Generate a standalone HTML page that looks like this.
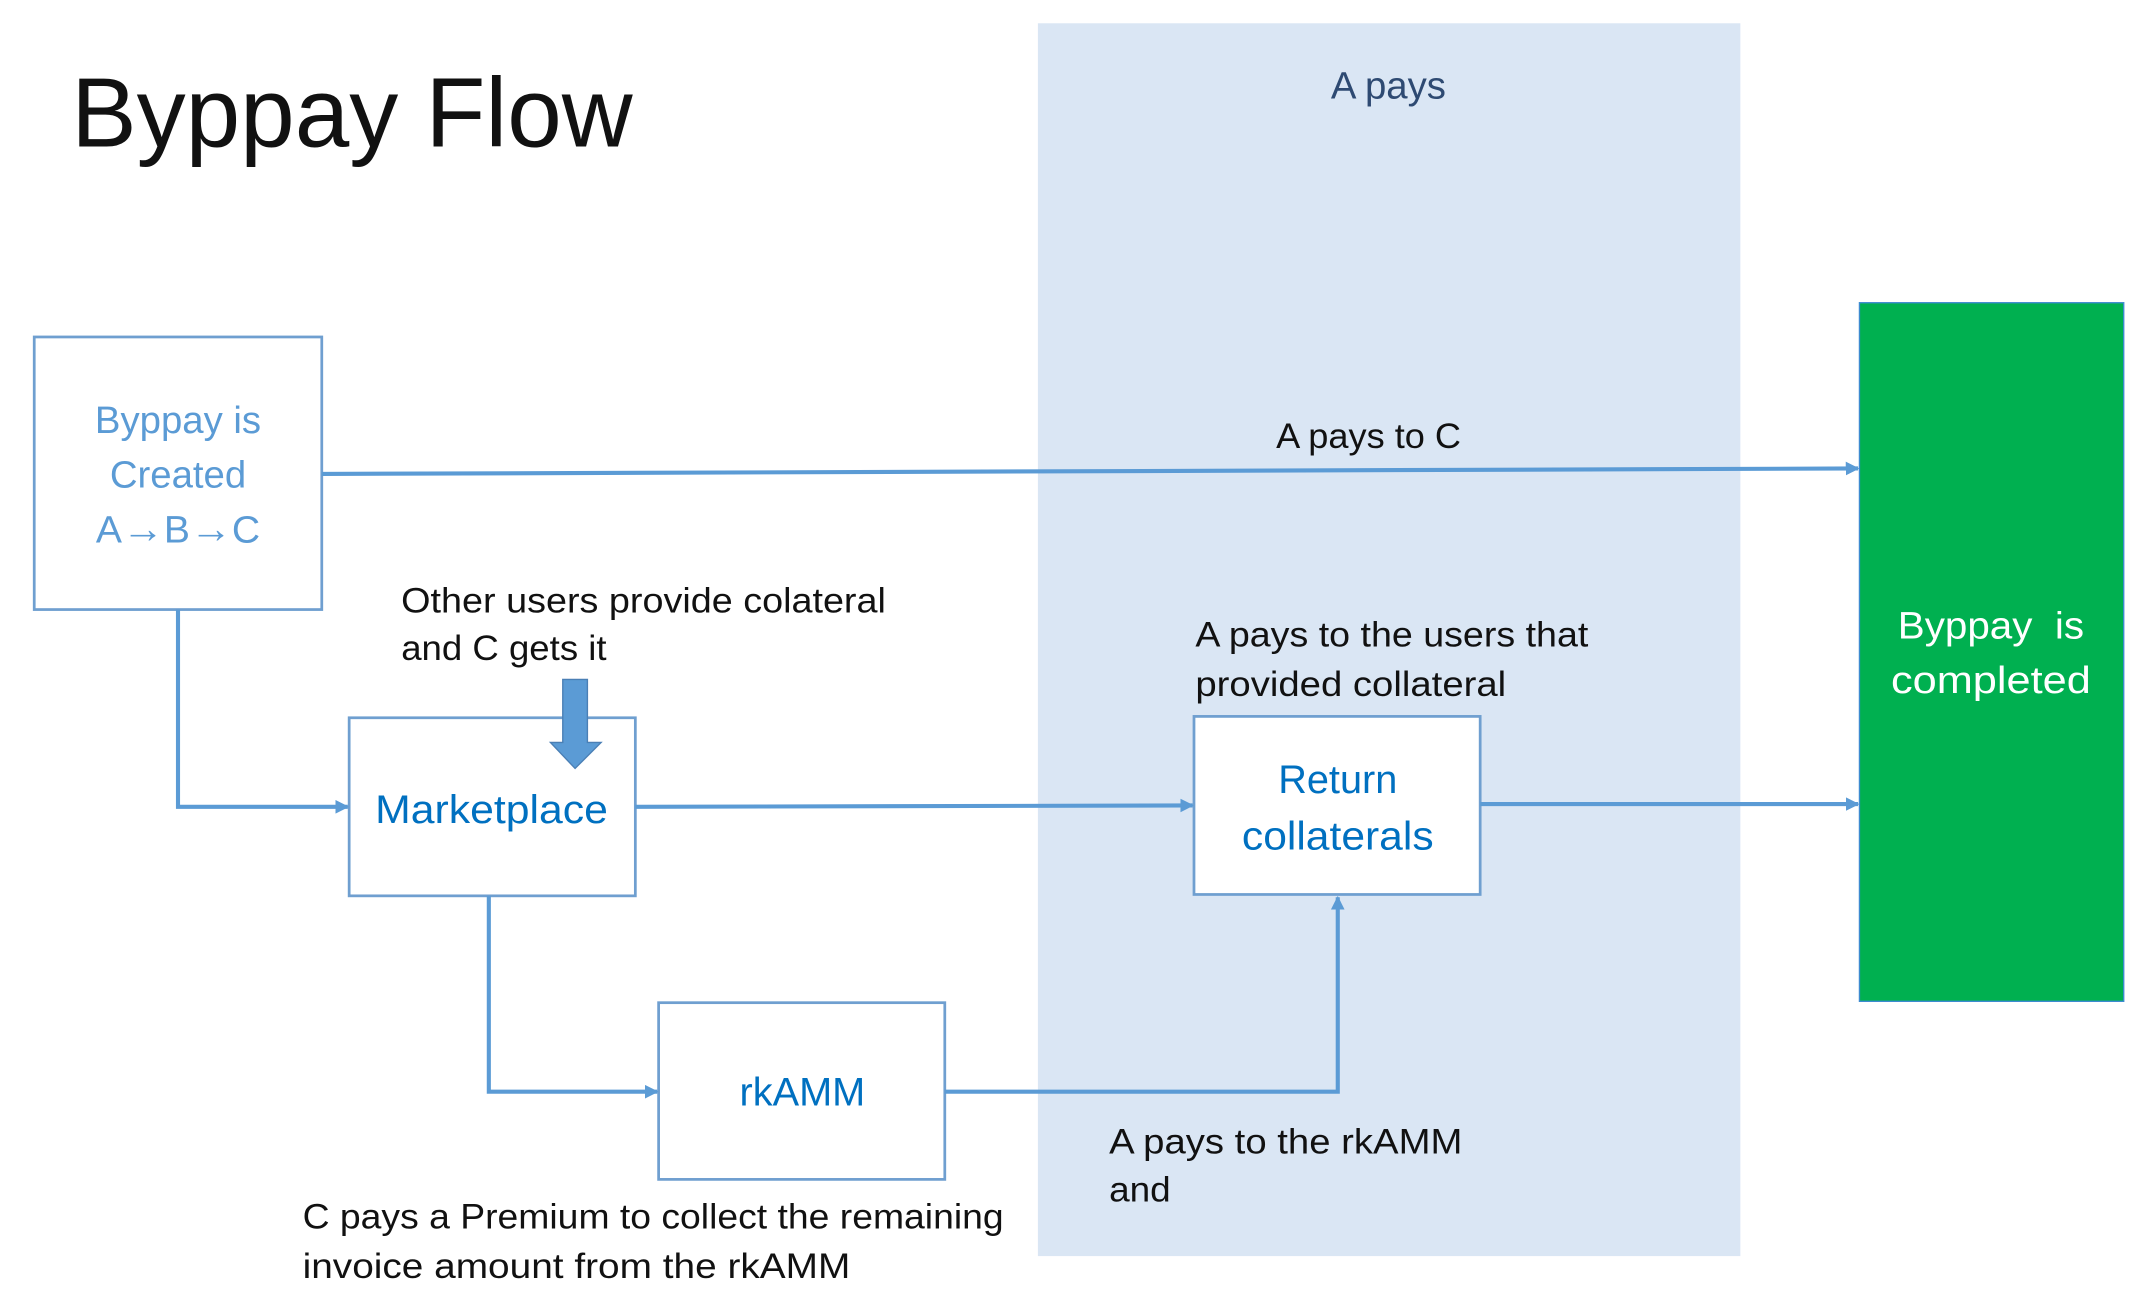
<!DOCTYPE html>
<html><head><meta charset="utf-8"><style>html,body{margin:0;padding:0;background:#fff}svg{display:block}</style></head>
<body>
<svg width="2147" height="1315" viewBox="0 0 1568 960" preserveAspectRatio="none" xmlns="http://www.w3.org/2000/svg" font-family="Liberation Sans, sans-serif">
<defs>
<marker id="a" markerWidth="10" markerHeight="10" refX="9" refY="5" orient="auto" markerUnits="userSpaceOnUse"><path d="M0,0 L10,5 L0,10 Z" fill="#5b9bd5"/></marker>
</defs>
<rect x="758" y="17" width="513" height="900" fill="#dae6f4"/>
<text x="52" y="107" font-size="72" fill="#111" textLength="410" lengthAdjust="spacingAndGlyphs">Byppay Flow</text>
<text x="1014" y="72" font-size="28" fill="#2e4a72" text-anchor="middle">A pays</text>
<g fill="#fff" stroke="#6f9fd0" stroke-width="2">
<rect x="25" y="246" width="210" height="199"/>
<rect x="255" y="524" width="209" height="130"/>
<rect x="872" y="523" width="209" height="130"/>
<rect x="481" y="732" width="209" height="129"/>
</g>
<rect x="1358" y="221" width="193" height="510" fill="#00b050" stroke="#3d8bd0" stroke-width="1"/>
<g stroke="#5b9bd5" stroke-width="3" fill="none" marker-end="url(#a)">
<path d="M235,346 L1357,342"/>
<path d="M130,445 L130,589 L254,589"/>
<path d="M464,589 L871,588"/>
<path d="M1081,587 L1357,587"/>
<path d="M357,654 L357,797 L480,797"/>
<path d="M690,797 L977,797 L977,655"/>
</g>
<path d="M411,496 L429,496 L429,542 L439,542 L420,561 L402,542 L411,542 Z" fill="#5b9bd5" stroke="#4a7fb5" stroke-width="1"/>
<g font-size="28" text-anchor="middle" fill="#5b9bd5">
<text x="130" y="316">Byppay is</text>
<text x="130" y="356">Created</text>
<text x="130" y="396" textLength="120" lengthAdjust="spacingAndGlyphs">A<tspan font-size="30">→</tspan>B<tspan font-size="30">→</tspan>C</text>
</g>
<g font-size="29" text-anchor="middle" fill="#0070c0">
<text x="359" y="601" textLength="170" lengthAdjust="spacingAndGlyphs">Marketplace</text>
<text x="977" y="579">Return</text>
<text x="977" y="620" textLength="140" lengthAdjust="spacingAndGlyphs">collaterals</text>
<text x="586" y="807">rkAMM</text>
</g>
<g font-size="28" text-anchor="middle" fill="#fff">
<text x="1454" y="466" xml:space="preserve" textLength="136" lengthAdjust="spacingAndGlyphs">Byppay  is</text>
<text x="1454" y="506" textLength="146" lengthAdjust="spacingAndGlyphs">completed</text>
</g>
<g font-size="26" fill="#111" lengthAdjust="spacingAndGlyphs">
<text x="932" y="327" textLength="135" lengthAdjust="spacingAndGlyphs">A pays to C</text>
<text x="293" y="447" textLength="354" lengthAdjust="spacingAndGlyphs">Other users provide colateral</text>
<text x="293" y="482" textLength="150" lengthAdjust="spacingAndGlyphs">and C gets it</text>
<text x="873" y="472" textLength="287" lengthAdjust="spacingAndGlyphs">A pays to the users that</text>
<text x="873" y="508" textLength="227" lengthAdjust="spacingAndGlyphs">provided collateral</text>
<text x="810" y="842" textLength="258" lengthAdjust="spacingAndGlyphs">A pays to the rkAMM</text>
<text x="810" y="877" textLength="45" lengthAdjust="spacingAndGlyphs">and</text>
<text x="221" y="897" textLength="512" lengthAdjust="spacingAndGlyphs">C pays a Premium to collect the remaining</text>
<text x="221" y="933" textLength="400" lengthAdjust="spacingAndGlyphs">invoice amount from the rkAMM</text>
</g>
</svg>
</body></html>
